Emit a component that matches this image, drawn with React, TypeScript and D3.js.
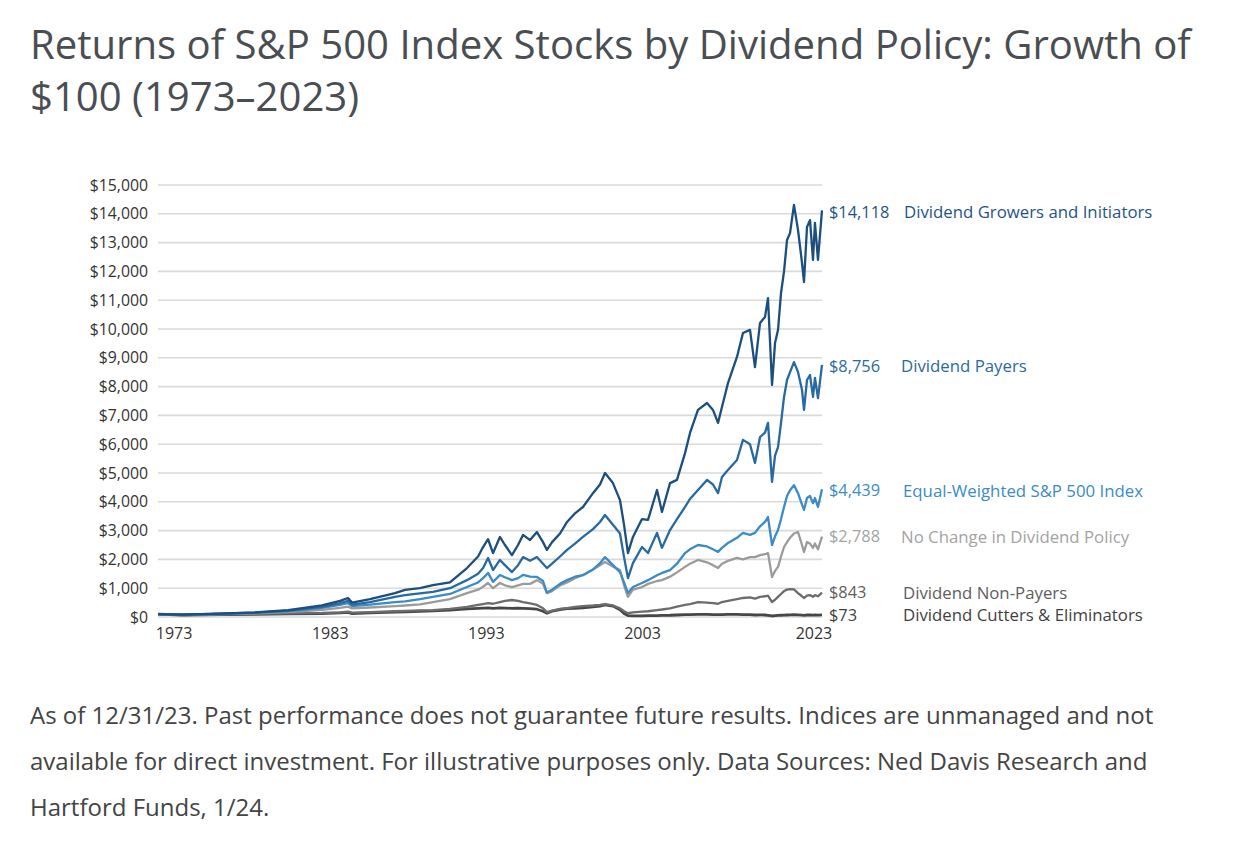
import { useEffect, useRef } from "react"
import * as d3 from 'd3'

// chart years (axis positions as drawn in the source graphic)
const years = [
  1972.0, 1973.54, 1975.97, 1978.21, 1980.33, 1982.5, 1983.66, 1984.17, 1984.43, 1985.58,
  1987.18, 1987.82, 1988.78, 1989.61, 1990.7, 1991.79, 1992.5, 1992.82, 1993.14, 1993.46,
  1993.9, 1994.22, 1994.67, 1995.06, 1995.38, 1995.83, 1996.27, 1996.66, 1996.91, 1997.24,
  1997.75, 1998.2, 1998.71, 1999.22, 1999.86, 2000.31, 2000.63, 2001.14, 2001.59, 2001.85,
  2002.1, 2002.42, 2003.0, 2003.7, 2004.75, 2005.33, 2006.27, 2007.08, 2008.02, 2008.6,
  2009.53, 2010.58, 2011.28, 2011.87, 2012.33, 2013.03, 2014.08, 2014.78, 2015.6, 2016.18,
  2016.77, 2017.35, 2017.7, 2018.17, 2018.52, 2018.87, 2019.22, 2019.57, 2019.92, 2020.27,
  2020.73, 2021.2, 2021.67, 2021.9, 2022.25, 2022.6, 2022.95, 2023.18, 2023.53, 2024.0,
]

const growers = [
  100, 80, 120, 160, 240, 400, 560, 660, 500, 620,
  830, 940, 1000, 1110, 1200, 1700, 2100, 2430, 2700, 2220,
  2780, 2500, 2150, 2500, 2850, 2670, 2950, 2600, 2330, 2600,
  2900, 3300, 3600, 3820, 4300, 4600, 5000, 4650, 4060, 3200,
  2220, 2780, 3400, 3370, 4410, 3650, 4650, 4760, 5690, 6390,
  7190, 7430, 7190, 6740, 7290, 8120, 9030, 9860, 9970, 8680,
  10210, 10420, 11070, 8060, 9510, 9970, 11250, 12000, 13090, 13330,
  14310, 13440, 12290, 11630, 13540, 13780, 12400, 13680, 12400, 14118,
]

const payers = [
  100, 80, 115, 150, 220, 350, 480, 560, 430, 520,
  700, 760, 820, 870, 1000, 1280, 1500, 1700, 2050, 1630,
  1980, 1800, 1560, 1800, 2080, 1950, 2080, 1850, 1700, 1850,
  2100, 2330, 2550, 2780, 3050, 3300, 3540, 3200, 2900, 2080,
  1350, 1870, 2430, 2220, 2920, 2400, 3020, 3400, 3820, 4100,
  4410, 4760, 4600, 4300, 4860, 5100, 5450, 6150, 6000, 5350,
  6250, 6400, 6740, 4690, 5600, 5900, 6740, 7640, 8230, 8500,
  8850, 8510, 7880, 7190, 8230, 8400, 7640, 8300, 7600, 8756,
]

const equalWeighted = [
  100, 75, 105, 140, 200, 320, 420, 480, 380, 430,
  520, 540, 620, 700, 800, 1040, 1200, 1350, 1530, 1220,
  1460, 1380, 1280, 1350, 1460, 1400, 1390, 1250, 850, 950,
  1150, 1280, 1400, 1450, 1650, 1870, 2080, 1800, 1560, 1200,
  830, 1040, 1180, 1280, 1450, 1530, 1630, 1850, 2220, 2350,
  2500, 2450, 2350, 2260, 2400, 2570, 2750, 2920, 2850, 2920,
  3150, 3300, 3470, 2500, 2800, 3020, 3400, 3820, 4200, 4400,
  4580, 4300, 3900, 3720, 4130, 4200, 3950, 4130, 3820, 4439,
]

const noChange = [
  100, 75, 100, 130, 170, 250, 320, 360, 300, 330,
  380, 400, 440, 520, 620, 830, 950, 1050, 1180, 1000,
  1180, 1100, 1040, 1100, 1150, 1150, 1280, 1150, 830, 900,
  1100, 1200, 1350, 1460, 1650, 1800, 1910, 1750, 1630, 1100,
  700, 950, 1040, 1150, 1250, 1280, 1400, 1550, 1740, 1850,
  1980, 1900, 1800, 1700, 1850, 1950, 2050, 2000, 2080, 2080,
  2150, 2180, 2220, 1390, 1600, 1740, 2100, 2430, 2600, 2750,
  2900, 2950, 2500, 2260, 2600, 2550, 2400, 2550, 2350, 2788,
]

const nonPayers = [
  100, 70, 90, 110, 130, 140, 160, 190, 150, 170,
  200, 210, 230, 240, 280, 350, 420, 450, 480, 460,
  520, 560, 590, 560, 520, 470, 420, 300, 170, 220,
  280, 310, 350, 380, 400, 420, 450, 400, 300, 200,
  130, 160, 190, 200, 240, 260, 300, 360, 420, 450,
  520, 500, 480, 460, 520, 560, 620, 660, 680, 640,
  700, 720, 740, 520, 600, 700, 800, 900, 950, 970,
  960, 830, 720, 660, 740, 760, 700, 760, 720, 843,
]

const cutters = [
  100, 70, 85, 95, 110, 120, 140, 160, 120, 140,
  170, 180, 200, 210, 240, 280, 300, 310, 320, 300,
  320, 310, 300, 310, 300, 290, 270, 200, 130, 200,
  260, 290, 300, 320, 350, 380, 420, 380, 250, 120,
  50, 40, 40, 45, 50, 55, 60, 70, 80, 85,
  90, 90, 85, 80, 85, 90, 90, 85, 80, 70,
  75, 70, 60, 35, 45, 55, 60, 65, 70, 75,
  80, 75, 65, 60, 70, 72, 68, 70, 66, 73,
]

const seriesNames = [
  'Dividend Growers and Initiators',
  'Dividend Payers',
  'Equal-Weighted S&P 500 Index',
  'No Change in Dividend Policy',
  'Dividend Non-Payers',
  'Dividend Cutters & Eliminators',
]
const seriesValues = [growers, payers, equalWeighted, noChange, nonPayers, cutters]
const lineColors = ['#1c4e7e', '#2869a0', '#3a8bc6', '#9b9b9b', '#6c6c6c', '#474747']
const labelColors = ['#1f5486', '#2a6aa1', '#3a8bc6', '#a3a3a3', '#5e5e5e', '#3f3f3f']
const nameOffsets = [75, 72, 74, 72, 74, 74]

const xTicks = [1973, 1983, 1993, 2003, 2023]
const yTicks = d3.range(0, 15001, 1000)

const titleLines = [
  'Returns of S&P 500 Index Stocks by Dividend Policy: Growth of',
  '$100 (1973–2023)',
]
const noteLines = [
  'As of 12/31/23. Past performance does not guarantee future results. Indices are unmanaged and not',
  'available for direct investment. For illustrative purposes only. Data Sources: Ned Davis Research and',
  'Hartford Funds, 1/24.',
]

const FONT = "'Open Sans', sans-serif"

export default function App() {
  const svgRef = useRef<SVGSVGElement>(null)

  useEffect(() => {
    d3.select(svgRef.current).selectAll('*').remove()
    if (!svgRef.current) return
    const svg = d3.select(svgRef.current)

    const left = 158
    const right = 822
    const xScale = d3.scaleLinear()
      .domain([1972, 2003, 2024])
      .range([left, 642, right])
    const yScale = d3.scaleLinear()
      .domain([0, 15000])
      .range([617, 185])

    // title
    svg.append('g')
      .selectAll('text')
      .data(titleLines)
      .join('text')
      .attr('x', 30)
      .attr('y', (d, i) => 59 + i * 52)
      .attr('font-family', FONT)
      .attr('font-size', 40.1)
      .attr('fill', '#4a4e53')
      .text(d => d)

    // grid
    svg.append('g')
      .selectAll('line')
      .data(yTicks)
      .join('line')
      .attr('x1', left)
      .attr('x2', right)
      .attr('y1', d => yScale(d))
      .attr('y2', d => yScale(d))
      .attr('stroke', '#dadada')
      .attr('stroke-width', 1.6)

    const yAxis = svg.append('g')
      .attr('transform', `translate(${left},0)`)
      .call(d3.axisLeft(yScale)
        .tickValues(yTicks)
        .tickSize(0)
        .tickPadding(10)
        .tickFormat(d => '$' + d3.format(',')(d as number)))
    yAxis.select('.domain').remove()
    yAxis.selectAll('text')
      .attr('font-family', FONT)
      .attr('font-size', 15.8)
      .attr('fill', '#333')

    const xAxis = svg.append('g')
      .attr('transform', `translate(0,${yScale(0)})`)
      .call(d3.axisBottom(xScale)
        .tickValues(xTicks)
        .tickSize(0)
        .tickPadding(11)
        .tickFormat(d => String(d)))
    xAxis.select('.domain').remove()
    xAxis.selectAll('text')
      .attr('font-family', FONT)
      .attr('font-size', 16)
      .attr('fill', '#333')

    const line = d3.line<number>()
      .x((d, i) => xScale(years[i]))
      .y(d => yScale(d))

    // draw bottom series first so the blues sit on top
    const order = [5, 4, 3, 2, 1, 0]
    order.forEach(k => {
      svg.append('path')
        .datum(seriesValues[k])
        .attr('fill', 'none')
        .attr('stroke', lineColors[k])
        .attr('stroke-width', k === 5 ? 2.8 : 2.3)
        .attr('stroke-linejoin', 'round')
        .attr('d', line)
    })

    // end labels
    const labels = svg.append('g')
    seriesValues.forEach((vals, k) => {
      const last = vals[vals.length - 1]
      const y = yScale(last) + (k < 3 ? 1.5 : 0)
      labels.append('text')
        .attr('x', right + 7)
        .attr('y', y)
        .attr('dy', '0.35em')
        .attr('font-family', FONT)
        .attr('font-size', 16.4)
        .attr('font-weight', 500)
        .attr('fill', labelColors[k])
        .text('$' + d3.format(',')(last))
      labels.append('text')
        .attr('x', right + 7 + nameOffsets[k])
        .attr('y', y)
        .attr('dy', '0.35em')
        .attr('font-family', FONT)
        .attr('font-size', 16.8)
        .attr('font-weight', 500)
        .attr('fill', labelColors[k])
        .text(seriesNames[k])
    })

    // footnote
    svg.append('g')
      .selectAll('text')
      .data(noteLines)
      .join('text')
      .attr('x', 30)
      .attr('y', (d, i) => 724 + i * 46)
      .attr('font-family', FONT)
      .attr('font-size', 24)
      .attr('fill', '#444')
      .text(d => d)
  }, [])

  return (
    <div style={{ position: 'absolute', left: 0, top: 0 }}>
      <svg ref={svgRef} width="1236" height="852" style={{ display: 'block', background: '#fff' }}></svg>
    </div>
  )
}
